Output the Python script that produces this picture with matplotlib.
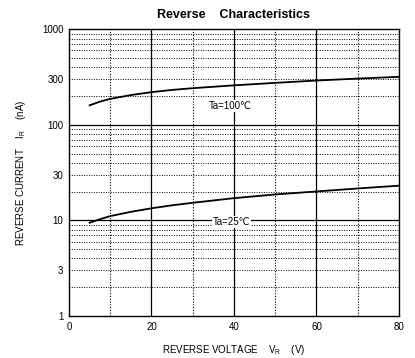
import matplotlib.pyplot as plt
import numpy as np

plt.rcParams['font.family'] = ['Liberation Sans', 'DejaVu Sans']
plt.rcParams['mathtext.fontset'] = 'custom'
plt.rcParams['mathtext.rm'] = 'Liberation Sans'

# reverse voltage (V)
vr = [5, 7.5, 10, 15, 20, 25, 30, 40, 50, 60, 70, 80]
# reverse current (nA)
ir_100 = [160, 175, 187, 205, 220, 232, 242, 259, 275, 291, 305, 318]
ir_25 = [9.46, 10.3, 11.1, 12.3, 13.4, 14.4, 15.3, 17.1, 18.7, 20.1, 21.6, 23.1]

yticks = [1, 3, 10, 30, 100, 300, 1000]
xticks = [0, 20, 40, 60, 80]

fig = plt.figure(figsize=(4.15, 3.58), dpi=100)
ax = fig.add_axes([0.1663, 0.1173, 0.795, 0.8009])

ax.set_yscale('log')
ax.set_xlim(0, 80)
ax.set_ylim(1, 1000)

# grid: solid majors, dotted minors
for x in [20, 40, 60]:
    ax.axvline(x, color='black', lw=0.9, zorder=1)
for x in [10, 30, 50, 70]:
    ax.axvline(x, color='black', lw=0.8, ls=(0, (1, 1.5)), zorder=1)
for y in [10, 100]:
    ax.axhline(y, color='black', lw=0.9, zorder=1)
for dec in [1, 10, 100]:
    for k in range(2, 10):
        ax.axhline(dec * k, color='black', lw=0.7, ls=(0, (1, 1.5)), zorder=1)

ax.plot(vr, ir_100, color='black', lw=1.3, zorder=3)
ax.plot(vr, ir_25, color='black', lw=1.3, zorder=3)

ax.text(39, 158, 'Ta=100\u2103', fontsize=7, ha='center', va='center',
        bbox=dict(facecolor='white', edgecolor='none', pad=0.5), zorder=4)
ax.text(39.5, 9.6, 'Ta=25\u2103', fontsize=7, ha='center', va='center',
        bbox=dict(facecolor='white', edgecolor='none', pad=0.5), zorder=4)

ax.set_xticks(xticks)
ax.set_xticklabels([str(t) for t in xticks])
ax.set_yticks(yticks)
ax.set_yticklabels([str(t) for t in yticks])
ax.minorticks_off()
ax.tick_params(length=0, labelsize=7, pad=4)
for s in ax.spines.values():
    s.set_linewidth(1.0)

ax.set_title('Reverse    Characteristics', fontsize=9, fontweight='bold', pad=8)
ax.set_xlabel(r'REVERSE VOLTAGE    $\mathregular{V_R}$    (V)', fontsize=7, labelpad=8)
ax.set_ylabel(r'REVERSE CURRENT    $\mathregular{I_R}$    (nA)', fontsize=7, labelpad=10)

plt.savefig('out.png', dpi=100)
